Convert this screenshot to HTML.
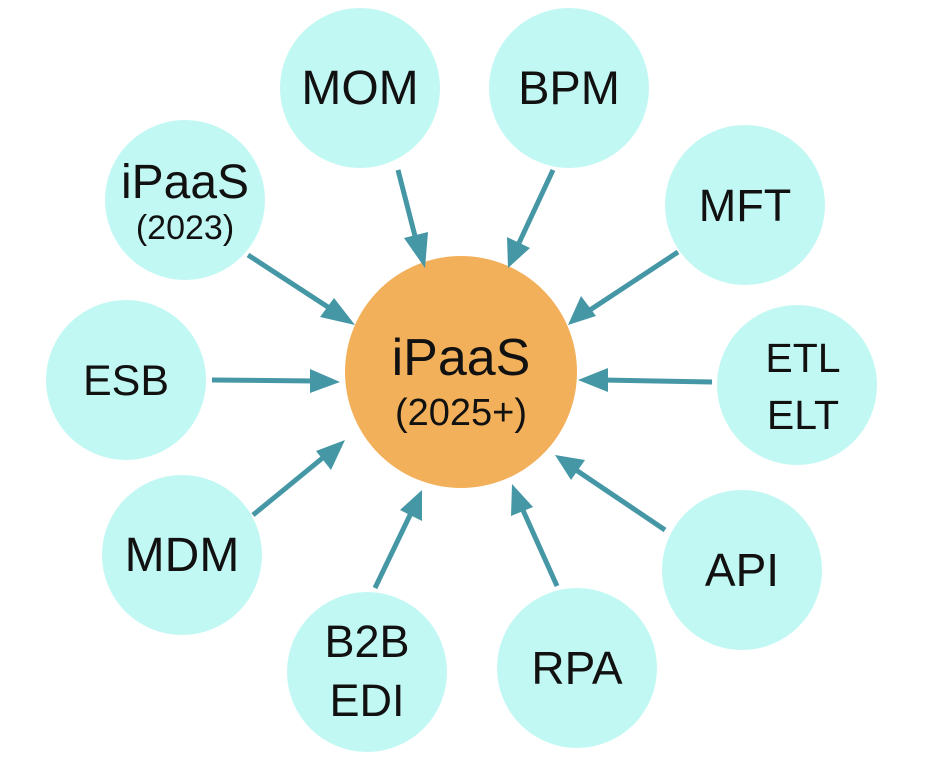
<!DOCTYPE html>
<html><head><meta charset="utf-8"><style>
html,body{margin:0;padding:0;background:#fff;}
svg{display:block;}
text{font-family:"Liberation Sans",sans-serif;fill:#111;text-anchor:middle;}
</style></head><body>
<svg width="934" height="766" viewBox="0 0 934 766">
<g fill="#c2f8f3">
<circle cx="360" cy="88" r="80"/>
<circle cx="569" cy="88" r="80"/>
<circle cx="185" cy="200" r="80"/>
<circle cx="745" cy="205" r="80"/>
<circle cx="126" cy="380" r="80"/>
<circle cx="797" cy="385" r="80"/>
<circle cx="182" cy="555" r="80"/>
<circle cx="742" cy="570" r="80"/>
<circle cx="367" cy="672" r="80"/>
<circle cx="577" cy="668" r="80"/>
</g>
<circle cx="461" cy="372" r="116" fill="#f3b05a"/>
<g stroke="#4597a6" stroke-width="5" fill="none">
<line x1="398" y1="170" x2="416" y2="240"/>
<line x1="553" y1="170" x2="519" y2="243"/>
<line x1="248" y1="255" x2="334" y2="311"/>
<line x1="678" y1="252" x2="590" y2="310"/>
<line x1="212" y1="380" x2="315" y2="381"/>
<line x1="712" y1="382" x2="603" y2="380"/>
<line x1="253" y1="515" x2="325" y2="456"/>
<line x1="665" y1="530" x2="576" y2="470"/>
<line x1="375" y1="588" x2="411" y2="513"/>
<line x1="557" y1="586" x2="522" y2="508"/>
</g>
<g fill="#4597a6">
<polygon points="425,268 404,238 428,232"/>
<polygon points="508,268 507,237 530,248"/>
<polygon points="355,325 320,317 334,298"/>
<polygon points="568,325 581,296 596,316"/>
<polygon points="340,382 310,369 310,393"/>
<polygon points="578,380 608,368 608,392"/>
<polygon points="345,440 331,470 316,451"/>
<polygon points="555,455 585,460 571,480"/>
<polygon points="422,490 422,521 400,510"/>
<polygon points="512,484 533,507 511,516"/>
</g>
<text x="360" y="104" font-size="48">MOM</text>
<text x="569" y="104" font-size="47">BPM</text>
<text x="185" y="198" font-size="48">iPaaS</text>
<text x="185" y="239" font-size="34">(2023)</text>
<text x="745" y="221" font-size="45">MFT</text>
<text x="126" y="395" font-size="43">ESB</text>
<text x="803" y="372" font-size="41">ETL</text>
<text x="803" y="429" font-size="41">ELT</text>
<text x="182" y="571" font-size="48">MDM</text>
<text x="742" y="586" font-size="46">API</text>
<text x="367" y="657" font-size="45">B2B</text>
<text x="367" y="716" font-size="45">EDI</text>
<text x="577" y="684" font-size="46">RPA</text>
<text x="461" y="375" font-size="52">iPaaS</text>
<text x="461" y="425" font-size="38">(2025+)</text>
</svg>
</body></html>
